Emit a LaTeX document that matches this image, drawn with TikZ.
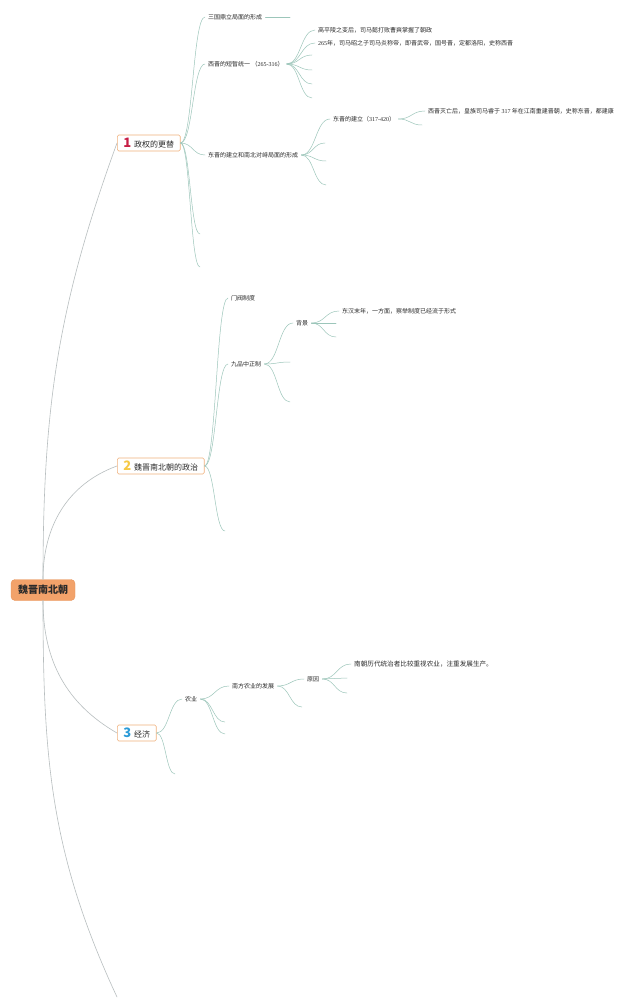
\documentclass[tikz,border=0pt]{standalone}
\usepackage{fontspec}
\setmainfont{Noto Sans CJK SC}
\newfontfamily\numf{Liberation Serif}
\usepackage{xcolor}
\usepackage{tikz}
\usetikzlibrary{positioning,calc}
\definecolor{rootfill}{HTML}{F2A26A}
\definecolor{rootedge}{HTML}{E8955C}
\definecolor{boxedge}{HTML}{F0B07C}
\definecolor{numred}{HTML}{C81E45}
\definecolor{numyellow}{HTML}{F6C945}
\definecolor{numblue}{HTML}{2B9BD8}
\definecolor{stemgrey}{HTML}{B8BEBF}
\definecolor{twiggreen}{HTML}{9CC6BA}
\definecolor{ink}{HTML}{2A2A2A}
\newcommand{\topicnum}[2]{{\color{#1}\fontsize{13}{13}\selectfont\bfseries #2}\hspace{3pt}}

\begin{document}
\begin{tikzpicture}[x=1pt, y=-1pt, line cap=round,
  rootbox/.style={fill=rootfill, draw=rootedge, rounded corners=4pt, minimum width=64pt, minimum height=21pt, inner sep=0pt, font=\fontsize{10}{10}\selectfont\bfseries, text=ink},
  topicbox/.style={draw=boxedge, fill=white, rounded corners=1.5pt, line width=0.6pt, minimum height=16pt, inner xsep=6pt, inner ysep=0pt, anchor=west, font=\fontsize{8}{8}\selectfont, text=ink},
  leaf/.style={anchor=west, inner xsep=3pt, inner ysep=1pt, font=\fontsize{6}{6}\selectfont, text=ink},
  stem/.style={draw=stemgrey, line width=0.6pt},
  twig/.style={draw=twiggreen, line width=0.5pt, to path={let \p1=(\tikztostart), \p2=(\tikztotarget), \p3=($(\p1)!.5!(\p2)$) in .. controls (\x3,\y1) and (\x3,\y2) .. (\p2) \tikztonodes}}]
  \fill[white] (0,0) rectangle (640,1008);

  % root
  \node[rootbox] (root) at (43,590) {魏晋南北朝};

  % topic 1, red number
  \node[topicbox] (t1) at (117,143) {\topicnum{numred}{1}政权的更替};
  \node[leaf] (a1) at (205,17) {三国鼎立局面的形成};
  \node[leaf] (a2) at (205,64) {西晋的短暂统一 （{\numf 265-316}）};
  \node[leaf] (a21) at (315,30) {高平陵之变后，司马懿打败曹爽掌握了朝政};
  \node[leaf] (a22) at (315,43) {{\numf 265}年，司马昭之子司马炎称帝，即晋武帝，国号晋，定都洛阳，史称西晋};
  \node[leaf] (a3) at (205,155) {东晋的建立和南北对峙局面的形成};
  \node[leaf] (a31) at (330,119) {东晋的建立（{\numf 317-420}）};
  \node[leaf] (a311) at (425,111) {西晋灭亡后，皇族司马睿于 {\numf 317} 年在江南重建晋朝，史称东晋，都建康};
  \coordinate (a1t) at (290,17);
  \coordinate (a23) at (312,55);
  \coordinate (a24) at (312,70);
  \coordinate (a25) at (312,84);
  \coordinate (a26) at (312,98);
  \coordinate (a312) at (422,125);
  \coordinate (a32) at (325,143);
  \coordinate (a33) at (326,161);
  \coordinate (a34) at (326,185);
  \coordinate (a4) at (200,234);
  \coordinate (a5) at (200,267);

  % topic 2, yellow number
  \node[topicbox] (t2) at (117,466) {\topicnum{numyellow}{2}魏晋南北朝的政治};
  \node[leaf] (b1) at (228,298) {门阀制度};
  \node[leaf] (b2) at (228,364) {九品中正制};
  \node[leaf] (b21) at (293,323) {背景};
  \node[leaf] (b211) at (339,311) {东汉末年，一方面，察举制度已经流于形式};
  \coordinate (b212) at (336,323);
  \coordinate (b213) at (336,337);
  \coordinate (b22) at (290,362);
  \coordinate (b23) at (290,402);
  \coordinate (b3) at (225,531);

  % topic 3, blue number
  \node[topicbox] (t3) at (117,733) {\topicnum{numblue}{3}经济};
  \node[leaf] (c1) at (182,699) {农业};
  \node[leaf] (c11) at (229,686) {南方农业的发展};
  \node[leaf] (c111) at (304,679) {原因};
  \node[leaf, font=\fontsize{6.6}{6.6}\selectfont] (c1111) at (351,664) {南朝历代统治者比较重视农业，注重发展生产。};
  \coordinate (c1112) at (347,678);
  \coordinate (c1113) at (347,693);
  \coordinate (c112) at (302,707);
  \coordinate (c12) at (225,722);
  \coordinate (c13) at (225,734);
  \coordinate (c2) at (175,774);
  \coordinate (t4) at (117,997);

  % stems from the root, in grey
  \draw[stem] (root.north) to[out=90, in=250] (t1.west);
  \draw[stem] (root.north) to[out=90, in=200] (t2.west);
  \draw[stem] (root.south) to[out=-90, in=150] (t3.west);
  \draw[stem] (root.south) to[out=-90, in=115] (t4);

  % twigs of topic 1
  \draw[twig] (t1.east) to (a1.west);
  \draw[twig] (t1.east) to (a2.west);
  \draw[twig] (t1.east) to (a3.west);
  \draw[twig] (t1.east) to (a4);
  \draw[twig] (t1.east) to (a5);
  \draw[twig] (a1.east) to (a1t);
  \draw[twig] (a2.east) to (a21.west);
  \draw[twig] (a2.east) to (a22.west);
  \draw[twig] (a2.east) to (a23);
  \draw[twig] (a2.east) to (a24);
  \draw[twig] (a2.east) to (a25);
  \draw[twig] (a2.east) to (a26);
  \draw[twig] (a3.east) to (a31.west);
  \draw[twig] (a3.east) to (a32);
  \draw[twig] (a3.east) to (a33);
  \draw[twig] (a3.east) to (a34);
  \draw[twig] (a31.east) to (a311.west);
  \draw[twig] (a31.east) to (a312);

  % twigs of topic 2
  \draw[twig] (t2.east) to (b1.west);
  \draw[twig] (t2.east) to (b2.west);
  \draw[twig] (t2.east) to (b3);
  \draw[twig] (b2.east) to (b21.west);
  \draw[twig] (b2.east) to (b22);
  \draw[twig] (b2.east) to (b23);
  \draw[twig] (b21.east) to (b211.west);
  \draw[twig] (b21.east) to (b212);
  \draw[twig] (b21.east) to (b213);

  % twigs of topic 3
  \draw[twig] (t3.east) to (c1.west);
  \draw[twig] (t3.east) to (c2);
  \draw[twig] (c1.east) to (c11.west);
  \draw[twig] (c1.east) to (c12);
  \draw[twig] (c1.east) to (c13);
  \draw[twig] (c11.east) to (c111.west);
  \draw[twig] (c11.east) to (c112);
  \draw[twig] (c111.east) to (c1111.west);
  \draw[twig] (c111.east) to (c1112);
  \draw[twig] (c111.east) to (c1113);
\end{tikzpicture}
\end{document}
